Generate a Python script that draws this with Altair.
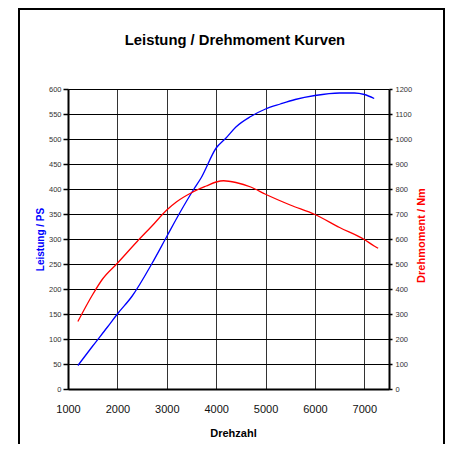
import altair as alt
import pandas as pd

# Leistung (PS) vs Drehzahl
rpm_ps = [1200, 1500, 1800, 2000, 2300, 2700, 3000, 3250, 3550, 3700, 4000, 4200,
          4400, 4700, 5000, 5300, 5600, 6000, 6500, 6800, 7000, 7200]
ps = [47, 86, 124, 150, 186, 251, 305, 350, 400, 423, 482, 502,
      524, 545, 560, 570, 579, 587, 592, 592, 589, 581]

# Drehmoment (Nm) vs Drehzahl
rpm_nm = [1200, 1500, 1700, 2000, 2400, 2700, 3000, 3200, 3500, 3800, 4000, 4150,
          4400, 4700, 5000, 5500, 6000, 6500, 7000, 7200, 7280]
nm = [270, 378, 440, 503, 590, 652, 716, 749, 785, 812, 828, 833,
      826, 808, 779, 736, 698, 646, 598, 572, 563]

x_ticks = [1000, 2000, 3000, 4000, 5000, 6000, 7000]
ps_ticks = list(range(0, 601, 50))
nm_ticks = list(range(0, 1201, 100))
title_text = ["Leistung / Drehmoment Kurven"]

df_ps = pd.DataFrame({"Drehzahl": rpm_ps, "PS": ps})
df_nm = pd.DataFrame({"Drehzahl": rpm_nm, "Nm": nm})

FONT = "Liberation Sans"

x_enc = alt.X(
    "Drehzahl:Q",
    scale=alt.Scale(domain=[1000, 7500], nice=False, zero=False),
    axis=alt.Axis(
        values=x_ticks, title="Drehzahl", format="d", ticks=False, labelFlush=False,
        labelFontSize=11, labelColor="#111", labelPadding=14, labelFont=FONT,
        domainColor="#000", domainWidth=2,
        grid=True, gridColor="#333", gridWidth=1,
        titleFontSize=11, titleFontWeight="bold", titleFont=FONT, titleColor="#000",
        titleX=165, titleY=44, titleBaseline="middle",
    ),
)

power = alt.Chart(df_ps).mark_line(
    color="#0000ff", strokeWidth=1.3, interpolate="monotone"
).encode(
    x=x_enc,
    y=alt.Y(
        "PS:Q",
        scale=alt.Scale(domain=[0, 600], nice=False),
        axis=alt.Axis(
            orient="left", values=ps_ticks, title="Leistung / PS", format="d",
            labelFontSize=7.5, labelColor="#333", labelFont=FONT, labelPadding=2,
            tickSize=5, tickColor="#000", tickWidth=1.5,
            domainColor="#000", domainWidth=2,
            grid=True, gridColor="#000", gridWidth=1,
            titleColor="#0000ff", titleFontSize=10, titleFontWeight="bold", titleFont=FONT,
            titleAngle=270, titleX=-28, titleY=150, titleBaseline="middle", titleAlign="center",
        ),
    ),
)

torque = alt.Chart(df_nm).mark_line(
    color="#ff0000", strokeWidth=1.3, interpolate="monotone"
).encode(
    x=alt.X("Drehzahl:Q", scale=alt.Scale(domain=[1000, 7500], nice=False, zero=False)),
    y=alt.Y(
        "Nm:Q",
        scale=alt.Scale(domain=[0, 1200], nice=False),
        axis=alt.Axis(
            orient="right", values=nm_ticks, title="Drehmoment / Nm", format="d",
            labelFontSize=7.5, labelColor="#333", labelFont=FONT, labelPadding=3,
            tickSize=3, tickColor="#000", tickWidth=1.5,
            domainColor="#000", domainWidth=2, grid=False,
            titleColor="#ff0000", titleFontSize=11, titleFontWeight="bold", titleFont=FONT,
            titleAngle=270, titleX=32, titleY=146, titleBaseline="middle", titleAlign="center",
        ),
    ),
)

frame = alt.Chart(pd.DataFrame({"a": [0]})).mark_rect(
    fill=None, stroke="#000", strokeWidth=2
).encode(
    x=alt.value(-49), x2=alt.value(376), y=alt.value(-80), y2=alt.value(380)
)

title = alt.Chart(pd.DataFrame({"t": title_text})).mark_text(
    font=FONT, fontSize=14.8, fontWeight="bold", color="#000",
    align="center", baseline="alphabetic",
).encode(text="t:N", x=alt.value(167), y=alt.value(-44))

chart = alt.layer(power, torque, frame, title).resolve_scale(y="independent").properties(
    width=321,
    height=300,
    padding={"left": 60, "top": 81, "right": 57, "bottom": 55},
    autosize=alt.AutoSizeParams(type="none"),
).configure_view(stroke=None).configure(background="white")

chart.save("out.html", embed_options={"renderer": "svg", "actions": False})
